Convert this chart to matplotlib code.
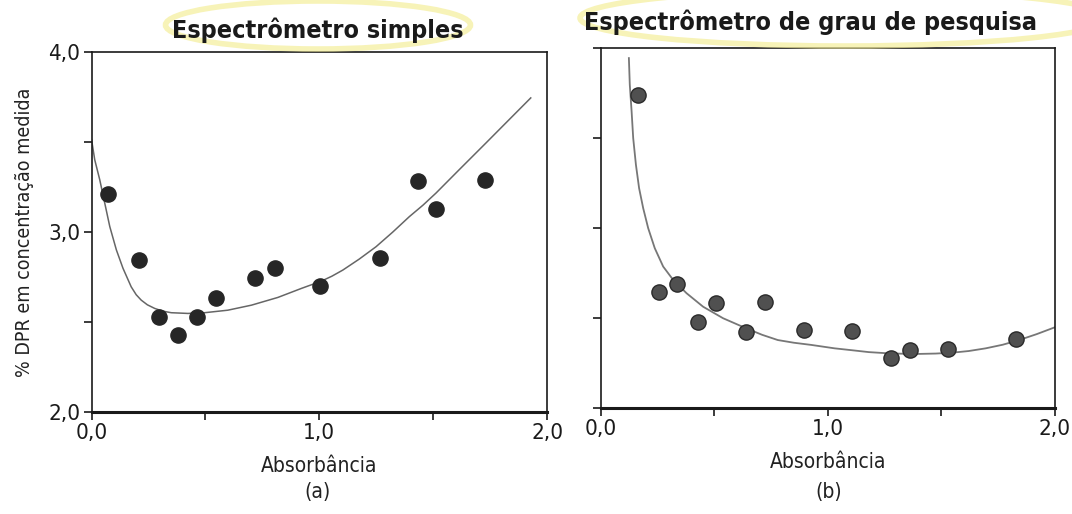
import numpy as np
import matplotlib
matplotlib.use('Agg')
import matplotlib.pyplot as plt
from matplotlib.patches import Ellipse

plt.rcParams['font.family'] = ['Liberation Sans Narrow', 'DejaVu Sans']
plt.rcParams['font.stretch'] = 'condensed'

# (a) espectrometro simples - pontos medidos
abs_a = [0.071, 0.209, 0.294, 0.380, 0.465, 0.548, 0.718, 0.804, 1.005,
         1.265, 1.432, 1.513, 1.728]
dpr_a = [3.211, 2.845, 2.528, 2.426, 2.526, 2.635, 2.745, 2.799, 2.700,
         2.858, 3.284, 3.129, 3.287]
# curva ajustada
curve_xa = [0.0, 0.014, 0.036, 0.058, 0.080, 0.109, 0.138, 0.174, 0.196,
            0.218, 0.245, 0.277, 0.312, 0.350, 0.423, 0.496, 0.598, 0.702,
            0.818, 0.921, 1.008, 1.055, 1.103, 1.175, 1.249, 1.322, 1.395,
            1.455, 1.512, 1.614, 1.731, 1.833, 1.928]
curve_ya = [3.514, 3.402, 3.291, 3.161, 3.031, 2.901, 2.799, 2.696, 2.652,
            2.622, 2.596, 2.576, 2.561, 2.552, 2.548, 2.552, 2.566, 2.594,
            2.637, 2.687, 2.727, 2.755, 2.789, 2.850, 2.919, 3.000, 3.086,
            3.150, 3.217, 3.347, 3.495, 3.625, 3.746]

# (b) espectrometro de grau de pesquisa
abs_b = [0.164, 0.255, 0.337, 0.426, 0.507, 0.640, 0.724, 0.894, 1.106,
         1.278, 1.361, 1.530, 1.827]
dpr_b = [3.741, 2.644, 2.689, 2.479, 2.585, 2.426, 2.589, 2.433, 2.429,
         2.281, 2.326, 2.329, 2.385]
curve_xb = [0.123, 0.127, 0.135, 0.142, 0.154, 0.168, 0.186, 0.208, 0.237,
            0.274, 0.318, 0.377, 0.450, 0.538, 0.640, 0.710, 0.779, 0.850,
            0.926, 1.029, 1.109, 1.180, 1.256, 1.330, 1.402, 1.475, 1.549,
            1.620, 1.695, 1.770, 1.842, 1.920, 2.0]
curve_yb = [3.944, 3.796, 3.648, 3.5, 3.352, 3.222, 3.111, 3.0, 2.889,
            2.787, 2.713, 2.639, 2.564, 2.5, 2.444, 2.408, 2.379, 2.364,
            2.352, 2.333, 2.322, 2.312, 2.306, 2.303, 2.302, 2.304, 2.309,
            2.318, 2.333, 2.353, 2.379, 2.412, 2.45]

xticks = [0.0, 0.5, 1.0, 1.5, 2.0]
xlabels = ['0,0', '', '1,0', '', '2,0']
yticks = [2.0, 2.5, 3.0, 3.5, 4.0]
ylabels = ['2,0', '', '3,0', '', '4,0']

fig = plt.figure(figsize=(10.72, 5.14), dpi=100)
ax1 = fig.add_axes([0.0854, 0.1984, 0.425, 0.700])
ax2 = fig.add_axes([0.5606, 0.2056, 0.4235, 0.701])


def style_ax(ax, show_ylabels):
    ax.set_xlim(0, 2.0)
    ax.set_ylim(2.0, 4.0)
    ax.set_xticks(xticks)
    ax.set_xticklabels(xlabels)
    ax.set_yticks(yticks)
    if show_ylabels:
        ax.set_yticklabels(ylabels)
    else:
        ax.set_yticklabels([''] * len(yticks))
    ax.tick_params(direction='out', length=6, width=1.2, colors='#1a1a1a',
                   labelsize=16, pad=2)
    for s in ['left', 'top', 'right']:
        ax.spines[s].set_linewidth(1.2)
        ax.spines[s].set_color('#1a1a1a')
    ax.spines['bottom'].set_linewidth(2.2)
    ax.spines['bottom'].set_color('#1a1a1a')
    ax.set_xlabel('Absorbância', fontsize=15, color='#222222', labelpad=9)


ax1.plot(curve_xa, curve_ya, color='#666666', lw=1.1)
ax1.scatter(abs_a, dpr_a, s=120, color='#262626', zorder=3)
style_ax(ax1, True)
ax1.set_ylabel('% DPR em concentração medida', fontsize=14, color='#222222',
               labelpad=10)

ax2.plot(curve_xb, curve_yb, color='#777777', lw=1.3)
ax2.scatter(abs_b, dpr_b, s=120, color='#505050', edgecolor='#2a2a2a',
            linewidth=1.0, zorder=3)
style_ax(ax2, False)

fig.text(0.2966, 0.043, '(a)', ha='center', va='center', fontsize=15,
         color='#222222')
fig.text(0.7733, 0.043, '(b)', ha='center', va='center', fontsize=15,
         color='#222222')

# marca-texto amarelo em volta dos titulos
fig.patches.append(Ellipse((318 / 1072, 1 - 25 / 514), 305 / 1072, 48 / 514,
                           transform=fig.transFigure, fill=False,
                           edgecolor='#f4ee9a', lw=4, alpha=0.7, zorder=0))
fig.patches.append(Ellipse((845 / 1072, 1 - 18 / 514), 530 / 1072, 56 / 514,
                           transform=fig.transFigure, fill=False,
                           edgecolor='#f4ee9a', lw=4, alpha=0.7, zorder=0))

fig.text(318 / 1072, 1 - 30 / 514, 'Espectrômetro simples', ha='center',
         va='center', fontsize=18, fontweight='bold', color='#1a1a1a')
fig.text(811 / 1072, 1 - 22 / 514, 'Espectrômetro de grau de pesquisa',
         ha='center', va='center', fontsize=18, fontweight='bold',
         color='#1a1a1a')

fig.savefig('out.png', dpi=100)
